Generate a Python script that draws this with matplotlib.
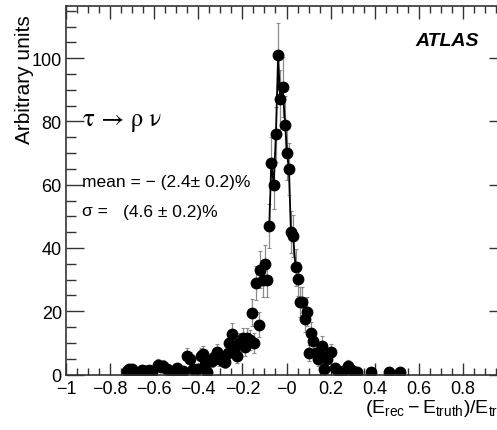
import numpy as np
import matplotlib.pyplot as plt
from matplotlib.ticker import MultipleLocator, FixedLocator, FixedFormatter

# bin centres
x_vals = [-0.725, -0.713, -0.702, -0.687, -0.657, -0.645, -0.634, -0.622, -0.611,
          -0.581, -0.570, -0.558, -0.543, -0.525, -0.510, -0.498, -0.468, -0.453,
          -0.438, -0.426, -0.408, -0.389, -0.378, -0.370, -0.360, -0.340, -0.330,
          -0.317, -0.305, -0.290, -0.280, -0.267, -0.260, -0.246, -0.237, -0.226,
          -0.216, -0.199, -0.189, -0.181, -0.166, -0.158, -0.148, -0.139, -0.126,
          -0.118, -0.108, -0.098, -0.087, -0.078, -0.069, -0.058, -0.048, -0.038,
          -0.029, -0.018, -0.006, 0.003, 0.011, 0.020, 0.030, 0.041, 0.052, 0.061,
          0.071, 0.082, 0.091, 0.100, 0.110, 0.121, 0.132, 0.141, 0.150, 0.162,
          0.170, 0.183, 0.200, 0.219, 0.234, 0.257, 0.280, 0.287, 0.302, 0.320,
          0.383, 0.464, 0.514]
y_vals = [1.0, 1.8, 1.7, 0.7, 1.5, 1.2, 1.0, 1.5, 0.7,
          3.1, 2.5, 2.8, 1.7, 1.0, 1.2, 2.0, 1.2, 5.9,
          4.9, 1.7, 1.7, 5.9, 6.5, 3.3, 0.9, 4.4, 5.5,
          7.0, 4.9, 4.4, 3.8, 6.8, 9.9, 12.8, 7.7, 5.9,
          9.9, 11.4, 8.8, 11.4, 10.9, 19.6, 9.9, 28.8, 15.7,
          33.1, 30.0, 34.9, 30.0, 47.0, 67.0, 60.0, 76.0, 101.0,
          87.0, 91.0, 79.0, 70.0, 65.0, 45.1, 43.9, 33.9, 30.2, 23.0,
          22.8, 17.7, 19.9, 6.8, 13.1, 10.7, 6.7, 4.9, 6.5, 9.1,
          1.7, 4.9, 7.0, 2.0, 1.2, 1.0, 2.8, 1.7, 1.0, 0.7,
          0.7, 0.7, 0.7]
y_errs = [1.0, 1.3, 1.3, 0.8, 1.2, 1.1, 1.0, 1.2, 0.8,
          1.8, 1.6, 1.7, 1.3, 1.0, 1.1, 1.4, 1.1, 2.4,
          2.2, 1.3, 1.3, 2.4, 2.5, 1.8, 0.9, 2.1, 2.3,
          2.6, 2.2, 2.1, 1.9, 2.6, 3.1, 3.6, 2.8, 2.4,
          3.1, 3.4, 3.0, 3.4, 3.3, 4.4, 3.1, 5.4, 4.0,
          5.8, 5.5, 5.9, 5.5, 6.9, 8.2, 7.7, 8.7, 10.0,
          9.3, 9.5, 8.9, 8.4, 8.1, 6.7, 6.6, 5.8, 5.5, 4.8,
          4.8, 4.2, 4.5, 2.6, 3.6, 3.3, 2.6, 2.2, 2.5, 3.0,
          1.3, 2.2, 2.6, 1.4, 1.1, 1.0, 1.7, 1.3, 1.0, 0.8,
          0.8, 0.8, 0.8]

xtick_vals = [-1, -0.8, -0.6, -0.4, -0.2, 0, 0.2, 0.4, 0.6, 0.8, 1]
# the "1" at the right end falls outside the cropped picture
xtick_labels = ['\u22121', '\u22120.8', '\u22120.6', '\u22120.4', '\u22120.2', '\u22120',
                '0.2', '0.4', '0.6', '0.8', '']

plt.rcParams['font.family'] = ['Liberation Sans', 'DejaVu Sans']
plt.rcParams['mathtext.fontset'] = 'custom'
plt.rcParams['mathtext.rm'] = 'Liberation Sans'
plt.rcParams['mathtext.it'] = 'Liberation Sans:italic'

x = np.array(x_vals)
y = np.array(y_vals)

fig = plt.figure(figsize=(4.97, 4.31), dpi=100)
ax = fig.add_axes([66/497, 1 - 375.5/431, (507-66)/497, (375.5-7)/431])

ax.errorbar(x, y, yerr=y_errs, fmt='none', ecolor='#8c8c8c', elinewidth=0.9, capsize=1.5, capthick=0.8)
core = (x >= -0.08) & (x <= 0.05)
ax.plot(x[core], y[core], '-', color='black', lw=1.3)
ax.plot(x, y, 'o', color='black', ms=7.5)

ax.set_xlim(-1, 1)
ax.set_ylim(0, 116.5)

ax.xaxis.set_major_locator(FixedLocator(xtick_vals))
ax.xaxis.set_major_formatter(FixedFormatter(xtick_labels))
ax.xaxis.set_minor_locator(MultipleLocator(0.05))
ax.yaxis.set_major_locator(MultipleLocator(20))
ax.yaxis.set_minor_locator(MultipleLocator(5))

ax.tick_params(which='both', direction='in', top=True, right=True, width=1, color='#333333',
               labelsize=13, labelcolor='black')
ax.tick_params(axis='x', which='major', length=9, pad=4)
ax.tick_params(axis='x', which='minor', length=5)
ax.tick_params(axis='y', which='major', length=13, pad=3)
ax.tick_params(axis='y', which='minor', length=7)
for s in ax.spines.values():
    s.set_linewidth(1.2)
    s.set_color('#333333')

fig.text(24/497, 1 - 80/431, 'Arbitrary units', rotation=90, ha='center', va='center',
         fontsize=15)
fig.text(517/497, 1 - 413/431,
         r'$(\mathrm{E}_{\mathrm{rec}} - \mathrm{E}_{\mathrm{truth}})/\mathrm{E}_{\mathrm{truth}}$',
         ha='right', va='baseline', fontsize=14)

fig.text(83/497, 1 - 120/431, '\u03c4 \u2192 \u03c1 \u03bd', fontsize=18, va='center',
         family=['STIXGeneral', 'Liberation Serif', 'DejaVu Serif'])
fig.text(82/497, 1 - 183/431, 'mean = \u2212 (2.4\u00b1 0.2)%', fontsize=12.5, va='center')
fig.text(82/497, 1 - 212/431, '\u03c3 =', fontsize=12.5, va='center')
fig.text(123/497, 1 - 212/431, '(4.6 \u00b1 0.2)%', fontsize=12.5, va='center')
fig.text(415/497, 1 - 42/431, 'ATLAS', fontsize=14, fontweight='bold', fontstyle='italic',
         va='center')

fig.savefig('out.png', dpi=100)
